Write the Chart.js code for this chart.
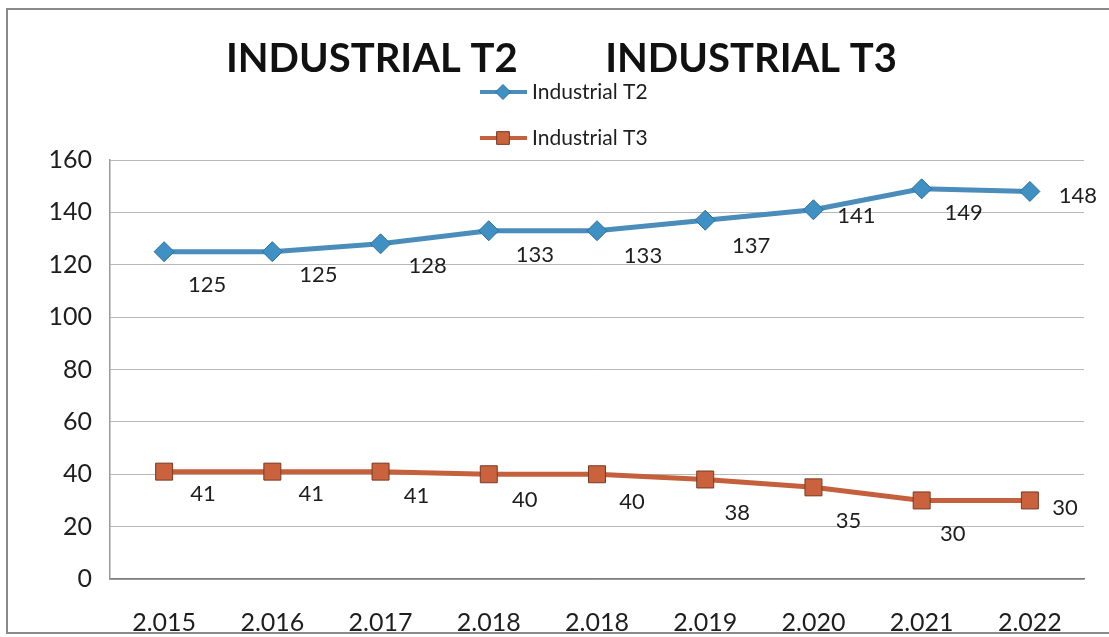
<!DOCTYPE html>
<html>
<head>
<meta charset="utf-8">
<script src="https://cdn.jsdelivr.net/npm/chart.js@4"></script>
<style>
  html, body { margin: 0; padding: 0; background: #fff; }
  .wrap { position: relative; width: 1109px; height: 637px; }
  .frame {
    position: absolute; left: 6px; top: 8px; width: 1110px; height: 622px;
    border: 2px solid #8a8a8a; pointer-events: none;
  }
</style>
</head>
<body>
<div class="wrap">
  <canvas id="chart" width="1109" height="637"></canvas>
  <div class="frame"></div>
</div>
<script>
const years = ["2.015", "2.016", "2.017", "2.018", "2.018", "2.019", "2.020", "2.021", "2.022"];
const industrialT2 = [125, 125, 128, 133, 133, 137, 141, 149, 148];
const industrialT3 = [41, 41, 41, 40, 40, 38, 35, 30, 30];
const yTicks = [0, 20, 40, 60, 80, 100, 120, 140, 160];

// where Excel put each value label, relative to its point
const labelOffsetsT2 = [[43, 33], [46, 23], [47, 22], [46, 24], [46, 25], [46, 26], [43, 6], [42, 24], [48, 4]];
const labelOffsetsT3 = [[39, 22], [39, 22], [36, 24], [36, 26], [35, 28], [32, 33], [35, 34], [31, 33], [35, 7]];

const FONT = "Lato, 'Open Sans', sans-serif";

const valueLabels = {
  id: "valueLabels",
  afterDatasetsDraw(chart) {
    const { ctx } = chart;
    ctx.save();
    ctx.font = `22px ${FONT}`;
    ctx.fillStyle = "#1e1e1e";
    ctx.textAlign = "center";
    ctx.textBaseline = "middle";
    chart.data.datasets.forEach((ds, i) => {
      const meta = chart.getDatasetMeta(i);
      meta.data.forEach((pt, j) => {
        const off = ds.labelOffsets[j];
        ctx.fillText(ds.data[j], pt.x + off[0], pt.y + off[1]);
      });
    });
    ctx.restore();
  },
};

// Excel style legend: one entry per row, line with marker through it
const stackedLegend = {
  id: "stackedLegend",
  afterDraw(chart) {
    const { ctx } = chart;
    const rows = [92, 138];
    ctx.save();
    chart.data.datasets.forEach((ds, i) => {
      const y = rows[i];
      ctx.strokeStyle = ds.borderColor;
      ctx.lineWidth = 4;
      ctx.beginPath();
      ctx.moveTo(480, y);
      ctx.lineTo(527, y);
      ctx.stroke();
      ctx.fillStyle = ds.pointBackgroundColor;
      ctx.strokeStyle = ds.pointBorderColor;
      ctx.lineWidth = 1;
      Chart.helpers.drawPoint(ctx, {
        pointStyle: ds.pointStyle,
        rotation: 0,
        radius: ds.pointRadius * 0.75,
        borderWidth: 1,
      }, 503, y);
      ctx.fillStyle = "#1e1e1e";
      ctx.font = `21px ${FONT}`;
      ctx.textAlign = "left";
      ctx.textBaseline = "middle";
      ctx.fillText(ds.label, 532, y);
    });
    ctx.restore();
  },
};

new Chart(document.getElementById("chart"), {
  type: "line",
  data: {
    labels: years,
    datasets: [
      {
        label: "Industrial T2",
        data: industrialT2,
        labelOffsets: labelOffsetsT2,
        borderColor: "#4a8dbb",
        borderWidth: 5,
        pointStyle: "rectRot",
        pointRadius: 10,
        pointBackgroundColor: "#3f90c3",
        pointBorderColor: "#2e6f9a",
        pointBorderWidth: 1,
        tension: 0,
      },
      {
        label: "Industrial T3",
        data: industrialT3,
        labelOffsets: labelOffsetsT3,
        borderColor: "#c4603c",
        borderWidth: 5,
        pointStyle: "rect",
        pointRadius: 12,
        pointBackgroundColor: "#c9623d",
        pointBorderColor: "#7a3a22",
        pointBorderWidth: 1,
        tension: 0,
      },
    ],
  },
  options: {
    responsive: false,
    animation: false,
    layout: { padding: { left: 0, right: 25, top: 0, bottom: 0 } },
    plugins: {
      legend: { display: false },
      tooltip: { enabled: false },
      title: {
        display: true,
        text: "    INDUSTRIAL T2         INDUSTRIAL T3",
        color: "#111",
        font: { family: FONT, size: 40, weight: "bold", lineHeight: 1.2 },
        padding: { top: 35, bottom: 77 },
      },
    },
    scales: {
      x: {
        offset: true,
        grid: { display: false, drawTicks: false },
        border: { display: true, color: "#7d7d7d", width: 1.5 },
        ticks: {
          color: "#1e1e1e",
          font: { family: FONT, size: 25 },
          padding: 29,
          maxRotation: 0,
        },
        afterFit(scale) { scale.height = 58; },
      },
      y: {
        min: 0,
        max: 160,
        afterBuildTicks(scale) { scale.ticks = yTicks.map(v => ({ value: v })); },
        grid: { color: "#b8b8b8", lineWidth: 1, drawTicks: false },
        border: { display: true, color: "#9a9a9a", width: 1.5 },
        ticks: {
          color: "#1e1e1e",
          font: { family: FONT, size: 25 },
          padding: 18,
        },
        afterFit(scale) { scale.width = 110; },
      },
    },
  },
  plugins: [valueLabels, stackedLegend],
});
</script>
</body>
</html>
